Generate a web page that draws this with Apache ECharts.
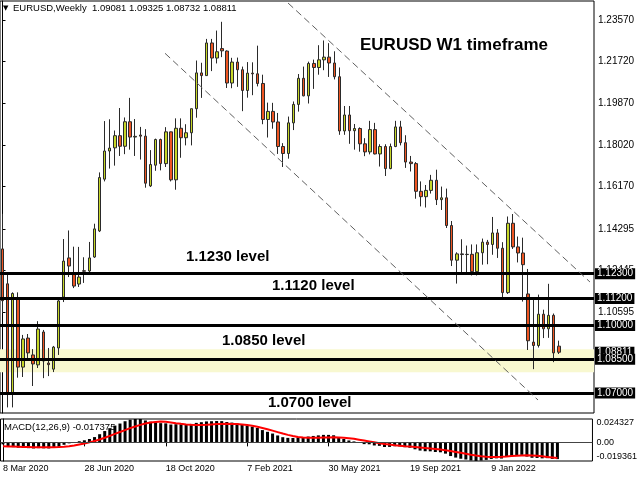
<!DOCTYPE html>
<html><head><meta charset="utf-8">
<script src="https://cdn.jsdelivr.net/npm/echarts@6/dist/echarts.min.js"></script>
<style>html,body{margin:0;padding:0;background:#fff}#c{width:640px;height:480px}</style>
</head><body><div id="c"></div>
<script>
// ---- data (weekly EURUSD, 8 Mar 2020 .. Apr 2022) ----
const opens = [1.1340,1.1185,1.0700,1.1117,1.0815,1.0944,1.0869,1.0825,1.0971,1.0833,
 1.0806,1.0900,1.1126,1.1300,1.1229,1.1184,1.1243,1.1242,1.1304,1.1420,
 1.1650,1.1775,1.1789,1.1843,1.1796,1.1905,1.1837,1.1846,1.1841,1.1620,
 1.1712,1.1826,1.1719,1.1860,1.1647,1.1876,1.1834,1.1856,1.1963,1.2122,
 1.2110,1.2255,1.2188,1.2230,1.2219,1.2077,1.2170,1.2136,1.2044,1.2121,
 1.2118,1.2075,1.1915,1.1951,1.1904,1.1795,1.1764,1.1900,1.1982,1.2098,
 1.2020,1.2164,1.2146,1.2180,1.2192,1.2166,1.2105,1.1864,1.1935,1.1865,
 1.1875,1.1807,1.1771,1.1870,1.1762,1.1795,1.1697,1.1795,1.1882,1.1812,
 1.1726,1.1719,1.1596,1.1572,1.1600,1.1645,1.1559,1.1567,1.1444,1.1290,
 1.1318,1.1315,1.1316,1.1239,1.1323,1.1370,1.1360,1.1411,1.1343,1.1146,
 1.1454,1.1349,1.1322,1.1140,1.0926,1.0911,1.1050,1.0985,1.1045,1.09081];
const highs = [1.1496,1.1236,1.1147,1.1147,1.0958,1.0962,1.0895,1.1019,1.0980,1.0900,
 1.0909,1.1122,1.1384,1.1422,1.1350,1.1349,1.1303,1.1371,1.1452,1.1680,
 1.1908,1.1916,1.1866,1.1966,1.1924,1.2011,1.1917,1.1882,1.1872,1.1779,
 1.1830,1.1830,1.1881,1.1861,1.1920,1.1920,1.1894,1.1963,1.2177,1.2167,
 1.2273,1.2273,1.2310,1.2349,1.2222,1.2189,1.2190,1.2150,1.2170,1.2169,
 1.2243,1.2114,1.1990,1.1989,1.1944,1.1810,1.1928,1.1995,1.2117,1.2150,
 1.2172,1.2181,1.2245,1.2266,1.2254,1.2218,1.2146,1.1975,1.1975,1.1895,
 1.1880,1.1832,1.1909,1.1900,1.1805,1.1805,1.1808,1.1909,1.1909,1.1845,
 1.1753,1.1726,1.1640,1.1624,1.1669,1.1692,1.1617,1.1608,1.1464,1.1325,
 1.1383,1.1355,1.1360,1.1360,1.1386,1.1380,1.1482,1.1428,1.1370,1.1484,
 1.1495,1.1395,1.1390,1.1251,1.1121,1.1137,1.1070,1.1185,1.1053,1.09325];
const lows = [1.1055,1.0636,1.0636,1.0768,1.0771,1.0846,1.0731,1.0811,1.0766,1.0775,
 1.0793,1.0869,1.1104,1.1215,1.1166,1.1171,1.1189,1.1233,1.1300,1.1415,
 1.1640,1.1697,1.1710,1.1753,1.1761,1.1781,1.1753,1.1737,1.1612,1.1615,
 1.1687,1.1689,1.1704,1.1640,1.1603,1.1745,1.1800,1.1800,1.1923,1.2011,
 1.2109,1.2130,1.2164,1.2192,1.2055,1.2054,1.2060,1.1952,1.2012,1.2023,
 1.2062,1.1894,1.1835,1.1874,1.1762,1.1704,1.1741,1.1868,1.1950,1.2018,
 1.1986,1.2051,1.2114,1.2134,1.2104,1.2093,1.1847,1.1847,1.1807,1.1781,
 1.1772,1.1752,1.1760,1.1760,1.1706,1.1664,1.1694,1.1792,1.1800,1.1700,
 1.1684,1.1563,1.1529,1.1524,1.1586,1.1535,1.1513,1.1433,1.1264,1.1186,
 1.1235,1.1228,1.1222,1.1222,1.1270,1.1272,1.1314,1.1300,1.1121,1.1140,
 1.1340,1.1280,1.1106,1.0891,1.0806,1.0902,1.0944,1.0945,1.0837,1.08732];
const closes = [1.1110,1.0700,1.1142,1.0815,1.0940,1.0878,1.0829,1.0984,1.0842,1.0826,
 1.0904,1.1109,1.1286,1.1264,1.1175,1.1215,1.1241,1.1300,1.1429,1.1657,
 1.1775,1.1788,1.1843,1.1796,1.1905,1.1837,1.1840,1.1841,1.1632,1.1715,
 1.1826,1.1719,1.1860,1.1647,1.1876,1.1834,1.1856,1.1963,1.2122,1.2110,
 1.2255,1.2188,1.2216,1.2220,1.2077,1.2170,1.2136,1.2044,1.2121,1.2118,
 1.2075,1.1915,1.1951,1.1904,1.1795,1.1764,1.1900,1.1982,1.2098,1.2020,
 1.2164,1.2146,1.2180,1.2192,1.2166,1.2105,1.1864,1.1935,1.1865,1.1875,
 1.1807,1.1771,1.1870,1.1762,1.1795,1.1697,1.1795,1.1882,1.1812,1.1726,
 1.1719,1.1596,1.1572,1.1600,1.1645,1.1559,1.1567,1.1444,1.1290,1.1318,
 1.1315,1.1316,1.1239,1.1323,1.1370,1.1360,1.1411,1.1343,1.1146,1.1454,
 1.1349,1.1322,1.1270,1.0932,1.0911,1.1050,1.0985,1.1045,1.0878,1.08811];
const macdMain = [-0.0020,-0.0045,-0.0050,-0.0055,-0.0058,-0.0060,-0.0063,-0.0060,-0.0062,-0.0063,
 -0.0058,-0.0045,-0.0025,-0.0010,0.0002,0.0012,0.0022,0.0035,0.0055,0.0085,
 0.0118,0.0148,0.0175,0.0196,0.0220,0.0236,0.0243,0.0243,0.0228,0.0215,
 0.0210,0.0200,0.0198,0.0186,0.0189,0.0188,0.0188,0.0192,0.0203,0.0210,
 0.0218,0.0220,0.0222,0.0221,0.0212,0.0206,0.0198,0.0185,0.0175,0.0163,
 0.0150,0.0128,0.0110,0.0092,0.0072,0.0054,0.0047,0.0046,0.0052,0.0052,
 0.0061,0.0067,0.0073,0.0078,0.0078,0.0074,0.0050,0.0035,0.0020,0.0010,
 -0.0004,-0.0018,-0.0020,-0.0032,-0.0036,-0.0048,-0.0047,-0.0040,-0.0042,-0.0050,
 -0.0056,-0.0072,-0.0085,-0.0092,-0.0093,-0.0100,-0.0103,-0.0117,-0.0142,-0.0158,
 -0.0170,-0.0178,-0.0188,-0.0193,-0.0189,-0.0182,-0.0172,-0.0166,-0.0168,-0.0150,
 -0.0140,-0.0133,-0.0130,-0.0148,-0.0160,-0.0162,-0.0166,-0.0164,-0.0172,-0.017375];
const macdSignal = [-0.0040,-0.0042,-0.0044,-0.0046,-0.0048,-0.0049,-0.0050,-0.0050,-0.0051,-0.0051,
 -0.0050,-0.0049,-0.0046,-0.0040,-0.0032,-0.0022,-0.0012,0.0000,0.0015,0.0030,
 0.0048,0.0068,0.0088,0.0108,0.0128,0.0148,0.0166,0.0182,0.0196,0.0206,
 0.0213,0.0216,0.0214,0.0208,0.0200,0.0193,0.0187,0.0183,0.0181,0.0182,
 0.0184,0.0187,0.0190,0.0192,0.0193,0.0192,0.0190,0.0186,0.0180,0.0172,
 0.0162,0.0150,0.0137,0.0122,0.0107,0.0092,0.0078,0.0066,0.0057,0.0051,
 0.0048,0.0047,0.0048,0.0050,0.0052,0.0053,0.0052,0.0049,0.0044,0.0037,
 0.0028,0.0019,0.0010,0.0001,-0.0008,-0.0016,-0.0023,-0.0029,-0.0034,-0.0039,
 -0.0043,-0.0048,-0.0053,-0.0058,-0.0063,-0.0069,-0.0075,-0.0082,-0.0090,-0.0099,
 -0.0108,-0.0118,-0.0128,-0.0137,-0.0144,-0.0149,-0.0151,-0.0151,-0.0149,-0.0146,
 -0.0142,-0.0138,-0.0136,-0.0135,-0.0136,-0.0140,-0.0145,-0.0151,-0.0157,-0.0163];
const tickIndex = [0,16,32,48,64,80,96];
const tickLabels = ['8 Mar 2020','28 Jun 2020','18 Oct 2020','7 Feb 2021','30 May 2021','19 Sep 2021','9 Jan 2022'];
const priceTicks = [1.2357,1.2172,1.1987,1.1802,1.1617,1.14295,1.10595,1.12445];
const levels = [1.123,1.112,1.10,1.085,1.07];
const lastPrice = 1.08811;
const bandRange = [1.0894,1.0792];
const upperChannel = [[55.94,1.24325],[115.1,1.11931]];
const lowerChannel = [[31.84,1.22091],[104.92,1.06689]];
const macdRange = [-0.019361,0.024327];
const macdTickLabels = ['0.024327','0.00','-0.019361'];
const levelNotes = [['1.1230 level',186,257],['1.1120 level',272,286],['1.0850 level',222,341],['1.0700 level',268,403]];
const headerText = 'EURUSD,Weekly  1.09081 1.09325 1.08732 1.08811';
const macdText = 'MACD(12,26,9) -0.017375';
const titleText = 'EURUSD W1 timeframe';

// ---- chart ----
const FONT = '"Liberation Sans", Arial, sans-serif';
const xMin = -0.49, xMax = 115.89;
const candleData = opens.map((o,i)=>[i,o,closes[i],lows[i],highs[i]]);
const boxLabel = {show:true, position:'end', distance:1, color:'#fff', backgroundColor:'#000',
  padding:[1,2,0,2], fontSize:10, fontFamily:FONT, formatter:p=>Number(p.value).toFixed(5)};

const chart = echarts.init(document.getElementById('c'), null, {renderer:'canvas'});
chart.setOption({
  animation:false,
  backgroundColor:'#fff',
  grid:[
    {left:0, top:1, width:594, height:412, show:true, borderColor:'#000', borderWidth:1},
    {left:0, top:419, width:594, height:42, show:true, borderColor:'#000', borderWidth:1}
  ],
  xAxis:[
    {type:'value', gridIndex:0, min:xMin, max:xMax, show:false, splitLine:{show:false}},
    {type:'value', gridIndex:1, min:xMin, max:xMax, splitLine:{show:false},
     axisLine:{show:true, lineStyle:{color:'#000'}},
     axisTick:{show:true, length:4, customValues:tickIndex, lineStyle:{color:'#000'}},
     axisLabel:{show:true, customValues:tickIndex, align:'left', margin:3, fontSize:9, color:'#000', fontFamily:FONT,
       formatter:v=>tickLabels[tickIndex.indexOf(Math.round(v))]}}
  ],
  yAxis:[
    {type:'value', gridIndex:0, position:'right', min:1.06111, max:1.24414, splitLine:{show:false},
     axisLine:{show:true, lineStyle:{color:'#000'}},
     axisTick:{show:true, length:3, customValues:priceTicks, lineStyle:{color:'#000'}},
     axisLabel:{show:true, customValues:priceTicks, margin:4, fontSize:10, color:'#000', fontFamily:FONT,
       formatter:v=>v.toFixed(5)}},
    {type:'value', gridIndex:1, position:'right', min:macdRange[0], max:macdRange[1], splitLine:{show:false},
     axisLine:{show:true, lineStyle:{color:'#000'}},
     axisTick:{show:true, length:3, customValues:[0], lineStyle:{color:'#000'}},
     axisLabel:{show:true, customValues:[macdRange[1],0,macdRange[0]], margin:4, fontSize:9, color:'#000', fontFamily:FONT,
       formatter:v=> v>0 ? '{t|'+macdTickLabels[0]+'}' : (v<0 ? '{b|'+macdTickLabels[2]+'}' : macdTickLabels[1]),
       rich:{t:{padding:[8,0,0,0], fontSize:9, fontFamily:FONT}, b:{padding:[0,0,8,0], fontSize:9, fontFamily:FONT}}}}
  ],
  series:[
    {type:'line', name:'band', xAxisIndex:0, yAxisIndex:0, data:[], z:1,
     markArea:{silent:true, itemStyle:{color:'#f8f8d0'}, data:[[{yAxis:bandRange[0]},{yAxis:bandRange[1]}]]}},
    {type:'candlestick', name:'EURUSD', xAxisIndex:0, yAxisIndex:0, data:candleData, z:2,
     encode:{x:0, y:[1,2,3,4]}, barWidth:3,
     itemStyle:{color:'#c6d628', color0:'#ee5522', borderColor:'#2a2a2a', borderColor0:'#2a2a2a', borderWidth:1}},
    {type:'line', name:'levels', xAxisIndex:0, yAxisIndex:0, data:[], z:5,
     markLine:{silent:true, symbol:'none', animation:false, precision:5,
       data:[
         {yAxis:lastPrice, lineStyle:{color:'rgba(0,0,0,0)', width:1, type:'solid'}, label:boxLabel},
         ...levels.map(v=>({yAxis:v, lineStyle:{color:'#000', width:3, type:'solid'}, label:boxLabel})),
         [{coord:upperChannel[0], lineStyle:{color:'#606060', width:1, type:[7,4]}, label:{show:false}},{coord:upperChannel[1]}],
         [{coord:lowerChannel[0], lineStyle:{color:'#606060', width:1, type:[7,4]}, label:{show:false}},{coord:lowerChannel[1]}]
       ]}},
    {type:'bar', name:'MACD', xAxisIndex:1, yAxisIndex:1, data:macdMain.map((v,i)=>[i,v]), barWidth:3,
     itemStyle:{color:'#000'}, z:2,
     markLine:{silent:true, symbol:'none', precision:5, label:{show:false}, lineStyle:{color:'#444', width:1, type:'solid'}, data:[{yAxis:0}]}},
    {type:'line', name:'Signal', xAxisIndex:1, yAxisIndex:1, data:macdSignal.map((v,i)=>[i,v]), showSymbol:false, symbol:'none',
     lineStyle:{color:'#ff0000', width:2}, z:3}
  ],
  graphic:[
    {type:'text', x:3, y:8, style:{text:'\u25BC', font:'7px "DejaVu Sans"', fill:'#000', verticalAlign:'middle'}},
    {type:'text', x:13, y:8, style:{text:headerText, font:'9.5px '+FONT, fill:'#000', verticalAlign:'middle'}},
    {type:'text', x:4, y:427, style:{text:macdText, font:'9.5px '+FONT, fill:'#000', verticalAlign:'middle'}},
    {type:'text', x:360, y:45, style:{text:titleText, font:'bold 17px '+FONT, fill:'#000', verticalAlign:'middle'}},
    ...levelNotes.map(n=>({type:'text', x:n[1], y:n[2], style:{text:n[0], font:'bold 15px '+FONT, fill:'#000', verticalAlign:'middle'}}))
  ]
});
</script></body></html>
